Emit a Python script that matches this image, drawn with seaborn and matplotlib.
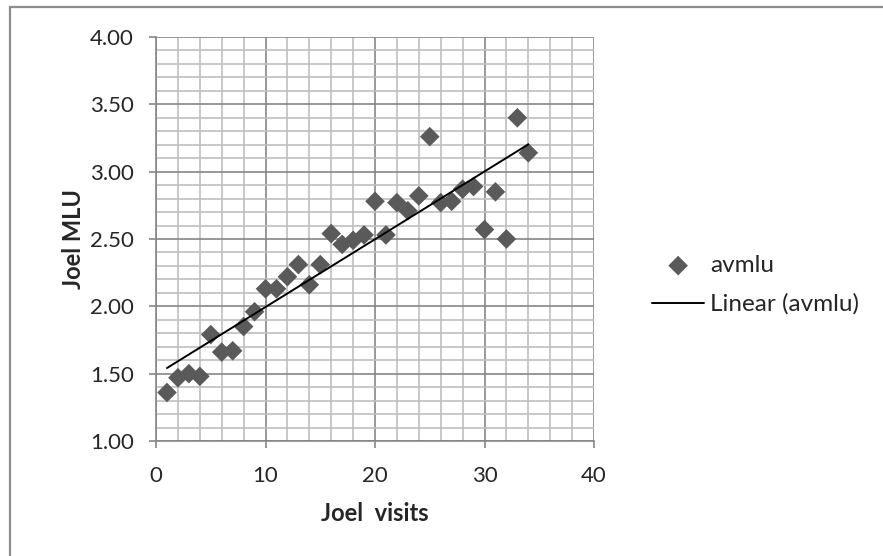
import numpy as np
import pandas as pd
import matplotlib
matplotlib.use("Agg")
import matplotlib.pyplot as plt
from matplotlib.lines import Line2D
from matplotlib.ticker import MultipleLocator
import seaborn as sns


VISITS = list(range(1, 35))
AVMLU = [
    1.36, 1.47, 1.50, 1.48, 1.79, 1.66, 1.67, 1.85, 1.96, 2.13,
    2.13, 2.22, 2.31, 2.16, 2.31, 2.54, 2.46, 2.49, 2.53, 2.78,
    2.53, 2.77, 2.71, 2.82, 3.26, 2.77, 2.78, 2.87, 2.89, 2.57,
    2.85, 2.50, 3.40, 3.14,
]

MARKER_GREY = "#5a5a5a"
MAJOR_GRID = "#868686"
MINOR_GRID = "#bfbfbf"


df = pd.DataFrame({"visit": VISITS, "avmlu": AVMLU})

sns.set_style("white")
plt.rcParams["font.family"] = ["Lato", "DejaVu Sans"]

fig = plt.figure(figsize=(8.83, 5.56), dpi=100)
ax = fig.add_axes([0.1767, 0.2068, 0.496, 0.7267])

sns.scatterplot(
    data=df, x="visit", y="avmlu", ax=ax,
    marker="D", s=100, color=MARKER_GREY, edgecolor="none",
    label="avmlu", zorder=3,
)
sns.regplot(
    data=df, x="visit", y="avmlu", ax=ax,
    scatter=False, ci=None, truncate=True,
    line_kws={"color": "black", "lw": 1.4, "zorder": 4},
    label="Linear (avmlu)",
)

ax.set_xlim(0, 40)
ax.set_ylim(1.0, 4.0)
ax.xaxis.set_major_locator(MultipleLocator(10))
ax.xaxis.set_minor_locator(MultipleLocator(2))
ax.yaxis.set_major_locator(MultipleLocator(0.5))
ax.yaxis.set_minor_locator(MultipleLocator(0.1))
ax.yaxis.set_major_formatter(lambda v, pos: f"{v:.2f}")

ax.grid(which="minor", color=MINOR_GRID, lw=1.2, zorder=0)
ax.grid(which="major", color=MAJOR_GRID, lw=1.2, zorder=1)
ax.set_axisbelow(True)

for side in ["top", "right"]:
    ax.spines[side].set_visible(False)
for side in ["left", "bottom"]:
    ax.spines[side].set_color(MAJOR_GRID)
    ax.spines[side].set_linewidth(1.2)

ax.tick_params(axis="both", which="major", length=5, width=1.2,
               color=MAJOR_GRID, labelsize=16, direction="out")
ax.tick_params(axis="x", which="major", pad=13)
ax.tick_params(axis="y", which="major", pad=11)
ax.tick_params(axis="both", which="minor", length=0)
ax.tick_params(left=True, bottom=True)

ax.set_xlabel("Joel  visits", fontsize=17, fontweight="bold")
ax.set_ylabel("Joel MLU", fontsize=17, fontweight="bold")
ax.xaxis.set_label_coords(0.5, -0.15)
ax.yaxis.set_label_coords(-0.163, 0.5)

ax.legend(loc="center left", bbox_to_anchor=(652 / 883, 1 - 285 / 556),
          bbox_transform=fig.transFigure, frameon=False,
          borderpad=0, borderaxespad=0,
          fontsize=17.5, handlelength=2.15, labelspacing=0.72, handletextpad=0.25)

# chart area border (only left and top edges are inside the picture)
x0, y0 = 10 / 883, 1 - 7 / 556
fig.add_artist(Line2D([x0, x0], [0, y0], transform=fig.transFigure,
                      color="#8c8c8c", lw=1.6))
fig.add_artist(Line2D([x0, 1], [y0, y0], transform=fig.transFigure,
                      color="#8c8c8c", lw=1.6))

fig.savefig("out.png", dpi=100)
